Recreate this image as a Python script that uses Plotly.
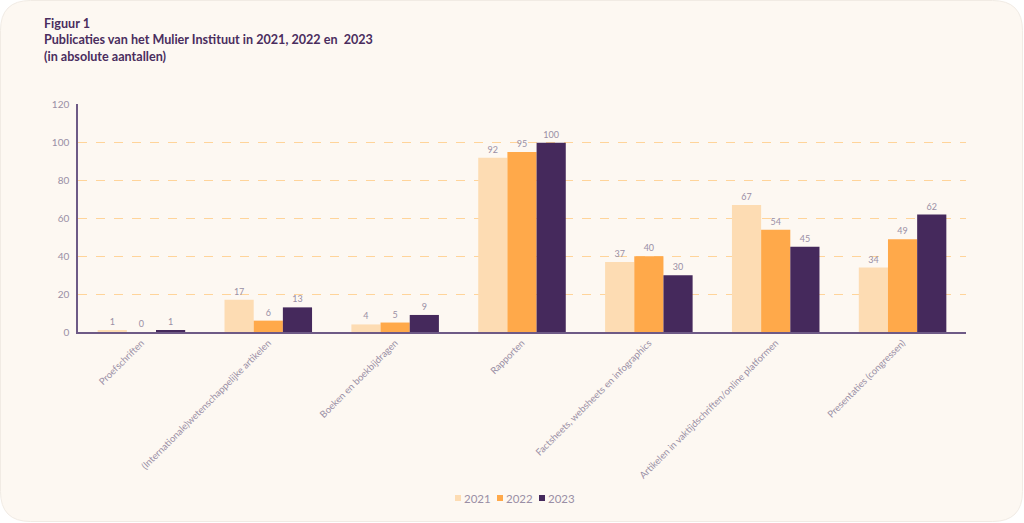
import plotly.graph_objects as go

categories = [
    "Proefschriften",
    "(Internationale)wetenschappelijke artikelen",
    "Boeken en boekbijdragen",
    "Rapporten",
    "Factsheets, websheets en infographics",
    "Artikelen in vaktijdschriften/online platformen",
    "Presentaties (congressen)",
]
v2021 = [1, 17, 4, 92, 37, 67, 34]
v2022 = [0, 6, 5, 95, 40, 54, 49]
v2023 = [1, 13, 9, 100, 30, 45, 62]
series_names = ["2021", "2022", "2023"]
colors = ["#FDDCB3", "#FFA94A", "#45295C"]

W, H = 1024, 523
L, R, T, B = 78, 58, 104, 191
pw, ph = W - L - R, H - T - B

fig = go.Figure()
for name, vals, col in zip(series_names, [v2021, v2022, v2023], colors):
    fig.add_trace(go.Bar(
        x=categories, y=vals, name=name, marker_color=col,
        marker_line_width=0, showlegend=False,
        text=[str(v) for v in vals], textposition="outside",
        textfont=dict(size=9, color="#9A8FA5", family="Lato"),
        cliponaxis=False,
    ))

def px(x):
    return (x - L) / pw
def py(y):
    return (H - B - y) / ph

# compact legend as in the reference
legend_x = [455, 497, 539]
for name, col, lx in zip(series_names, colors, legend_x):
    fig.add_shape(type="rect", xref="paper", yref="paper",
                  x0=px(lx), x1=px(lx + 6), y0=py(501), y1=py(495),
                  fillcolor=col, line_width=0)
    fig.add_annotation(
        xref="paper", yref="paper", x=px(lx + 7), y=py(498), xanchor="left", yanchor="middle",
        text=name, showarrow=False, font=dict(size=11.5, color="#9A8FA5", family="Lato"),
    )

r = 30
x0, x1, y0, y1 = 0.5, W - 1.5, 0.5, H - 1.5
path = (
    f"M {px(x0 + r)} {py(y0)} L {px(x1 - r)} {py(y0)} "
    f"Q {px(x1)} {py(y0)} {px(x1)} {py(y0 + r)} "
    f"L {px(x1)} {py(y1 - r)} Q {px(x1)} {py(y1)} {px(x1 - r)} {py(y1)} "
    f"L {px(x0 + r)} {py(y1)} Q {px(x0)} {py(y1)} {px(x0)} {py(y1 - r)} "
    f"L {px(x0)} {py(y0 + r)} Q {px(x0)} {py(y0)} {px(x0 + r)} {py(y0)} Z"
)
fig.add_shape(type="path", xref="paper", yref="paper", path=path,
              fillcolor="#FDF8F2", line=dict(color="#F1EBE4", width=1), layer="below")

fig.update_layout(
    width=W, height=H,
    margin=dict(l=L, r=R, t=T, b=B, autoexpand=False),
    paper_bgcolor="white", plot_bgcolor="rgba(0,0,0,0)",
    barmode="group", bargap=0.31, bargroupgap=0,
    showlegend=False,
    font=dict(family="Lato", color="#9A8FA5"),
    title=dict(
        text="<b>Figuur 1<br>Publicaties van het Mulier Instituut in 2021, 2022 en  2023<br>(in absolute aantallen)</b>",
        x=44 / W, xanchor="left", y=1 - 28 / H, yanchor="top",
        font=dict(size=12.6, color="#4A2D5E", family="Lato"),
    ),
    xaxis=dict(tickangle=-45, tickfont=dict(size=9.5, color="#9A8FA5"), automargin=False,
               showline=True, linecolor="#6E5A86", linewidth=1.5, ticks=""),
    yaxis=dict(range=[0, 120.4], tickvals=[0, 20, 40, 60, 80, 100, 120],
               tickfont=dict(size=10, color="#9A8FA5"), automargin=False,
               showline=True, linecolor="#6E5A86", linewidth=1.5,
               gridcolor="#FFD49A", griddash="dash", gridwidth=1,
               zeroline=False, ticks="", ticklen=0, ticklabelstandoff=5),
)
fig.write_html("out.html", config={"displayModeBar": False},
               post_script="document.body.style.margin='0';document.body.style.overflow='hidden';")
